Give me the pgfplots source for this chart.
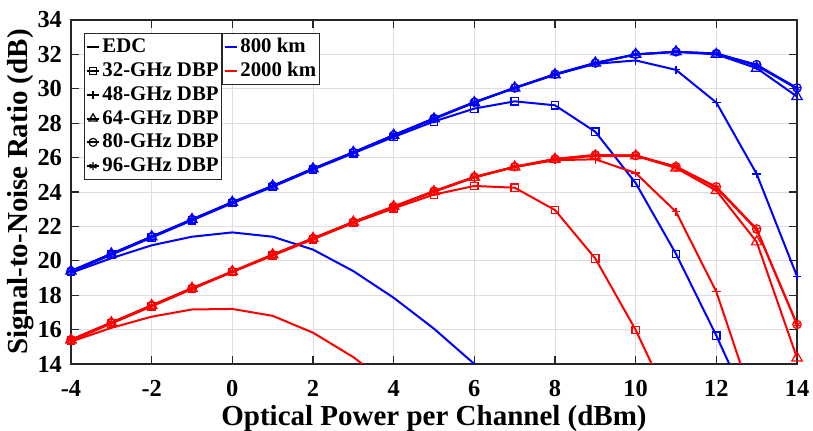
\documentclass[border=0pt]{standalone}
\usepackage{fontspec}
\setmainfont{Liberation Serif}
\usepackage{pgfplots}
\pgfplotsset{compat=1.18}
\definecolor{mblue}{RGB}{0,0,255}
\definecolor{mred}{RGB}{255,0,0}
\definecolor{axgray}{RGB}{38,38,38}
\pgfplotsset{
  snr/.style={scale only axis,width=363pt,height=172pt,
    xmin=-4,xmax=14,ymin=14,ymax=34},
  legbox/.style={legend cell align=left,
    legend style={font=\bfseries\fontsize{10.4}{12}\selectfont,draw=axgray,line width=0.6pt,
      inner xsep=0.5pt,inner ysep=1pt,row sep=0.4pt,anchor=north west,
      nodes={inner sep=1pt,text height=7.5pt,text depth=2pt}}},
}
\begin{document}
\begin{tikzpicture}
\begin{axis}[snr,legbox,name=ax,
  xtick={-4,-2,...,14},ytick={14,16,...,34},
  grid=major,major grid style={line width=0.4pt,draw=black!13},
  axis line style={draw=axgray,line width=0.6pt},
  major tick length=4pt,tick style={draw=axgray,line width=0.6pt},
  /pgf/number format/assume math mode=true,
  ticklabel style={font=\bfseries\fontsize{12.2}{13}\selectfont},
  xticklabel style={yshift=-4.5pt},yticklabel style={xshift=-1pt},
  xlabel={Optical Power per Channel (dBm)},ylabel={Signal-to-Noise Ratio (dB)},
  label style={font=\bfseries\fontsize{14.5}{16}\selectfont},
  xlabel style={yshift=2.5pt},ylabel style={yshift=-5pt},
  legend style={at={(0.018,0.962)}},
  legend image code/.code={\draw[mark repeat=2,mark phase=2,#1] plot coordinates {(0pt,0pt) (3.2pt,0pt) (6.4pt,0pt)};},
  every axis plot/.append style={line width=1pt,mark options={solid,line width=0.6pt}},
]
\addlegendimage{black,no markers}\addlegendentry{EDC}
\addlegendimage{black,mark=square,mark size=1.6pt}\addlegendentry{32-GHz DBP}
\addlegendimage{black,mark=+,mark size=2pt}\addlegendentry{48-GHz DBP}
\addlegendimage{black,mark=triangle,mark size=2.4pt}\addlegendentry{64-GHz DBP}
\addlegendimage{black,mark=o,mark size=2pt}\addlegendentry{80-GHz DBP}
\addlegendimage{black,mark=asterisk,mark size=2pt}\addlegendentry{96-GHz DBP}
% 800 km
\addplot[mblue,no markers,forget plot] coordinates {(-4,19.3) (-3,20.15) (-2,20.9) (-1,21.4) (0,21.65) (1,21.4) (2,20.65) (3,19.4) (4,17.85) (5,16.05) (6,14.0) (7,11.8)};
\addplot[mblue,mark=square,mark size=1.85pt,forget plot] coordinates {(-4,19.35) (-3,20.35) (-2,21.35) (-1,22.35) (0,23.35) (1,24.3) (2,25.3) (3,26.25) (4,27.2) (5,28.1) (6,28.85) (7,29.27) (8,29.04) (9,27.5) (10,24.52) (11,20.4) (12,15.65) (13,10.5)};
\addplot[mblue,mark=+,mark size=2.1pt,forget plot] coordinates {(-4,19.4) (-3,20.4) (-2,21.4) (-1,22.4) (0,23.4) (1,24.35) (2,25.35) (3,26.3) (4,27.3) (5,28.25) (6,29.2) (7,30.05) (8,30.82) (9,31.45) (10,31.65) (11,31.1) (12,29.2) (13,25.05) (14,19.1)};
\addplot[mblue,mark=triangle,mark size=3pt,forget plot] coordinates {(-4,19.4) (-3,20.4) (-2,21.4) (-1,22.4) (0,23.4) (1,24.35) (2,25.35) (3,26.3) (4,27.3) (5,28.25) (6,29.2) (7,30.05) (8,30.82) (9,31.5) (10,32.0) (11,32.15) (12,32.0) (13,31.2) (14,29.55)};
\addplot[mblue,mark=o,mark size=2.1pt,forget plot] coordinates {(-4,19.4) (-3,20.4) (-2,21.4) (-1,22.4) (0,23.4) (1,24.35) (2,25.35) (3,26.3) (4,27.3) (5,28.28) (6,29.22) (7,30.05) (8,30.85) (9,31.5) (10,32.0) (11,32.15) (12,32.05) (13,31.4) (14,30.05)};
\addplot[mblue,mark=asterisk,mark size=2.1pt,forget plot] coordinates {(-4,19.4) (-3,20.4) (-2,21.4) (-1,22.4) (0,23.4) (1,24.35) (2,25.35) (3,26.3) (4,27.3) (5,28.28) (6,29.22) (7,30.05) (8,30.85) (9,31.5) (10,32.0) (11,32.15) (12,32.05) (13,31.35) (14,30.0)};
% 2000 km
\addplot[mred,no markers,forget plot] coordinates {(-4,15.3) (-3,16.1) (-2,16.75) (-1,17.17) (0,17.2) (1,16.8) (2,15.82) (3,14.4) (4,12.6)};
\addplot[mred,mark=square,mark size=1.85pt,forget plot] coordinates {(-4,15.35) (-3,16.35) (-2,17.35) (-1,18.35) (0,19.35) (1,20.3) (2,21.25) (3,22.2) (4,23.05) (5,23.85) (6,24.35) (7,24.25) (8,22.95) (9,20.13) (10,15.98) (11,11.0)};
\addplot[mred,mark=+,mark size=2.1pt,forget plot] coordinates {(-4,15.4) (-3,16.4) (-2,17.4) (-1,18.4) (0,19.37) (1,20.35) (2,21.3) (3,22.25) (4,23.15) (5,24.02) (6,24.85) (7,25.45) (8,25.85) (9,25.9) (10,25.1) (11,22.85) (12,18.2) (13,11.2)};
\addplot[mred,mark=triangle,mark size=3pt,forget plot] coordinates {(-4,15.4) (-3,16.4) (-2,17.4) (-1,18.4) (0,19.37) (1,20.35) (2,21.3) (3,22.25) (4,23.15) (5,24.02) (6,24.85) (7,25.45) (8,25.9) (9,26.1) (10,26.1) (11,25.4) (12,24.08) (13,21.1) (14,14.35)};
\addplot[mred,mark=o,mark size=2.1pt,forget plot] coordinates {(-4,15.4) (-3,16.4) (-2,17.4) (-1,18.4) (0,19.37) (1,20.35) (2,21.3) (3,22.25) (4,23.15) (5,24.05) (6,24.87) (7,25.47) (8,25.92) (9,26.15) (10,26.12) (11,25.47) (12,24.3) (13,21.85) (14,16.3)};
\addplot[mred,mark=asterisk,mark size=2.1pt,forget plot] coordinates {(-4,15.4) (-3,16.4) (-2,17.4) (-1,18.4) (0,19.37) (1,20.35) (2,21.3) (3,22.25) (4,23.15) (5,24.05) (6,24.87) (7,25.47) (8,25.92) (9,26.15) (10,26.12) (11,25.47) (12,24.25) (13,21.8) (14,16.3)};
\end{axis}
\begin{axis}[snr,legbox,hide axis,
  legend style={at={(0.208,0.962)},row sep=0.4pt},
  legend image code/.code={\draw[#1] (0pt,0pt) -- (6.4pt,0pt);},
]
\addlegendimage{mblue,line width=1pt}\addlegendentry{800 km}
\addlegendimage{mred,line width=1pt}\addlegendentry{2000 km}
\end{axis}
\pgfresetboundingbox
\path[use as bounding box] ([shift={(-35.5pt,-33.5pt)}]ax.south west) rectangle ([shift={(8pt,10pt)}]ax.north east);
\end{tikzpicture}
\end{document}
